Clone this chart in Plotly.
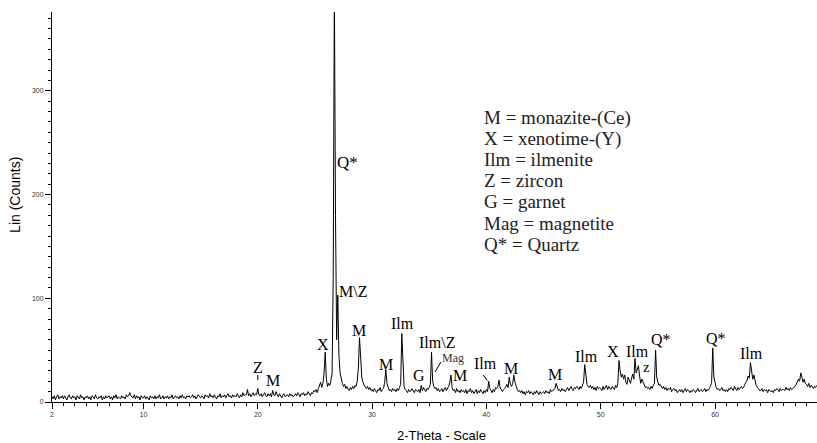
import numpy as np
import plotly.graph_objects as go

# ---------------- data ----------------
start_2theta = 2.0
step_2theta = 0.1

counts_02_10 = [
    5,3,6,2,5,7,3,5,4,6, 3,6,4,2,5,7,4,3,6,4, 5,2,6,4,3,7,4,5,2,5,
    4,6,3,5,2,6,5,3,7,4, 3,5,4,6,2,5,3,6,4,5, 6,3,5,2,6,4,7,3,5,4,
    3,6,4,5,3,7,5,6,9,6, 5,4,7,3,6,4,5,2,6,4,
]
counts_10_20 = [
    4,6,3,5,4,2,6,4,5,3, 6,3,5,4,7,3,4,6,3,5, 4,6,3,5,4,7,3,5,6,4,
    5,3,6,4,7,4,5,3,6,5, 6,4,5,7,4,6,3,5,7,5, 4,6,5,3,7,5,6,4,8,5,
    6,4,7,5,3,6,5,8,4,6, 5,7,4,6,8,5,6,4,7,5, 6,5,8,6,4,7,5,9,6,7,
    7,12,6,8,5,7,9,6,8,7,
]
counts_20_30 = [
    13,7,6,8,5,7,9,6,5,8, 6,8,5,11,7,6,10,7,5,8, 6,4,7,8,5,6,7,5,8,6,
    7,5,6,8,6,9,7,5,8,7, 9,6,8,7,10,8,6,9,8,11, 10,12,9,13,17,19,14,18,28,48,
    22,15,18,16,21,27,120,400,180,60, 103,45,28,22,18,15,17,13,15,12,
    11,14,12,15,13,16,15,20,33,62, 38,24,19,16,14,13,15,12,14,11,
]
counts_30_40 = [
    12,10,13,11,9,12,11,14,10,12, 13,19,31,18,13,11,12,10,13,11,
    12,10,13,11,14,17,66,28,15,12, 11,9,12,10,11,13,10,9,12,11,
    10,12,9,16,11,14,12,10,13,12, 14,17,48,20,15,13,14,11,13,10,
    11,13,10,12,14,11,13,15,19,26, 14,11,12,9,13,10,11,9,12,10,
    11,9,12,8,11,10,13,9,11,8, 10,12,8,11,9,12,10,8,11,9,
]
counts_40_50 = [
    12,10,20,13,11,9,12,10,14,13, 15,21,14,12,10,12,13,15,17,14,
    24,17,15,18,26,19,14,12,10,11, 9,11,8,10,7,10,9,11,8,10,
    9,7,10,8,11,9,7,10,8,9, 10,8,11,9,10,8,12,10,11,12,
    13,18,14,11,12,10,13,11,12,10, 12,14,11,13,15,12,11,14,13,15,
    14,12,15,13,16,19,36,24,17,15, 14,16,13,15,12,14,11,15,13,14,
]
counts_50_60 = [
    13,11,15,12,14,16,12,15,13,12, 15,13,12,16,14,18,40,30,24,27,
    22,26,19,17,24,21,18,23,27,22, 42,28,31,35,25,18,22,19,16,14,
    15,13,14,12,15,13,16,18,50,24, 19,16,17,14,13,15,12,14,11,13,
    12,14,10,12,13,11,12,9,11,12, 10,12,9,11,13,10,12,11,9,11,
    10,12,11,9,11,13,10,11,12,10, 11,13,10,12,11,13,15,19,52,24,
]
counts_60_69 = [
    18,14,12,13,11,12,14,11,12,10, 12,10,13,12,14,12,11,15,13,11,
    14,12,13,15,13,14,17,19,21,25, 23,38,27,22,26,19,16,14,13,11,
    11,13,10,12,11,12,9,12,11,10, 11,9,12,11,13,12,10,13,11,12,
    12,11,14,12,13,11,14,12,13,14, 15,17,19,22,20,28,24,19,22,18,
    17,15,18,14,16,15,13,15,14,16,
]

x_tick_vals = [2, 10, 20, 30, 40, 50, 60]
y_tick_vals = [0, 100, 200, 300]

# phase labels on the peaks: text, 2-theta, counts, font size
peak_label_text = ["Z", "M", "X", "Q*", "M\\Z", "M", "M", "Ilm", "G", "Ilm\\Z",
                   "Mag", "M", "Ilm", "M", "M", "Ilm", "X", "Ilm", "z", "Q*", "Q*", "Ilm"]
peak_label_x = [20.02, 21.33, 25.72, 27.85, 28.29, 28.86, 31.18, 32.62, 34.10, 35.70,
                37.04, 37.69, 39.95, 42.18, 45.98, 48.73, 51.08, 53.25, 54.00, 55.26, 60.10, 63.21]
peak_label_y = [32.8, 21.2, 55.0, 230.5, 107.0, 68.5, 36.6, 76.0, 26.0, 57.0,
                42.4, 26.0, 37.3, 32.0, 26.7, 44.2, 48.5, 49.0, 33.5, 59.8, 61.4, 46.5]
peak_label_size = [16, 16, 16, 17, 16, 16, 16, 16, 16, 16,
                   12, 16, 16, 16, 16, 16, 16, 16, 15, 16, 16, 16]

# small leader marks next to labels (x0, y0, x1, y1)
leader_marks = [
    (20.0, 21.2, 20.0, 26.0),
    (35.50, 28.9, 36.03, 38.6),
    (39.73, 26.0, 40.08, 20.5),
]

legend_lines = ["M = monazite-(Ce)", "X = xenotime-(Y)", "Ilm = ilmenite", "Z = zircon",
                "G = garnet", "Mag = magnetite", "Q* = Quartz"]
legend_y = [273.6, 253.3, 233.4, 213.1, 193.2, 172.4, 151.8]
legend_x = 39.62

# ---------------- figure ----------------
counts = (counts_02_10 + counts_10_20 + counts_20_30 + counts_30_40
          + counts_40_50 + counts_50_60 + counts_60_69)
two_theta = np.round(start_2theta + step_2theta * np.arange(len(counts)), 1)

fig = go.Figure()
fig.add_trace(go.Scatter(x=two_theta, y=counts, mode="lines",
                         line=dict(color="black", width=1.0), hoverinfo="skip",
                         showlegend=False))

serif = "Liberation Serif, Times New Roman, serif"
sans = "Liberation Sans, Arial, sans-serif"

annotations = []
for t, x, y, s in zip(peak_label_text, peak_label_x, peak_label_y, peak_label_size):
    annotations.append(dict(x=x, y=y, xref="x", yref="y", text=t, showarrow=False,
                            xanchor="center", yanchor="middle",
                            font=dict(family=serif, size=s,
                                      color="#333" if t == "Mag" else "black")))
for t, y in zip(legend_lines, legend_y):
    annotations.append(dict(x=legend_x, y=y, xref="x", yref="y", text=t, showarrow=False,
                            xanchor="left", yanchor="middle",
                            font=dict(family=serif, size=19, color="#222")))
annotations.append(dict(x=-0.0484, y=0.531, xref="paper", yref="paper", text="Lin (Counts)",
                        showarrow=False, textangle=-90, xanchor="center", yanchor="middle",
                        font=dict(family=sans, size=14, color="black")))
annotations.append(dict(x=0.5085, y=-0.087, xref="paper", yref="paper", text="2-Theta - Scale",
                        showarrow=False, xanchor="center", yanchor="middle",
                        font=dict(family=sans, size=13, color="black")))

shapes = [dict(type="line", xref="x", yref="y", x0=a, y0=b, x1=c, y1=d,
               line=dict(color="black", width=1)) for a, b, c, d in leader_marks]

fig.update_layout(
    width=817, height=443,
    margin=dict(l=52, r=0, t=12, b=41),
    paper_bgcolor="white", plot_bgcolor="white",
    annotations=annotations, shapes=shapes,
    xaxis=dict(range=[2, 68.92], showgrid=False, zeroline=False, showline=True,
               linecolor="black", linewidth=1, ticks="outside", ticklen=6,
               tickcolor="black", tickvals=x_tick_vals,
               tickfont=dict(family=sans, size=7, color="#333"),
               minor=dict(ticks="outside", ticklen=3, tick0=0, dtick=1, tickcolor="black")),
    yaxis=dict(range=[0, 376], showgrid=False, zeroline=False, showline=True,
               linecolor="black", linewidth=1, ticks="outside", ticklen=6,
               tickcolor="black", tickvals=y_tick_vals,
               tickfont=dict(family=sans, size=7, color="#333"),
               minor=dict(ticks="outside", ticklen=3, tick0=0, dtick=10, tickcolor="black")),
)

fig.write_html("out.html", config={"displayModeBar": False},
               post_script="document.body.style.margin='0';document.body.style.overflow='hidden';")
